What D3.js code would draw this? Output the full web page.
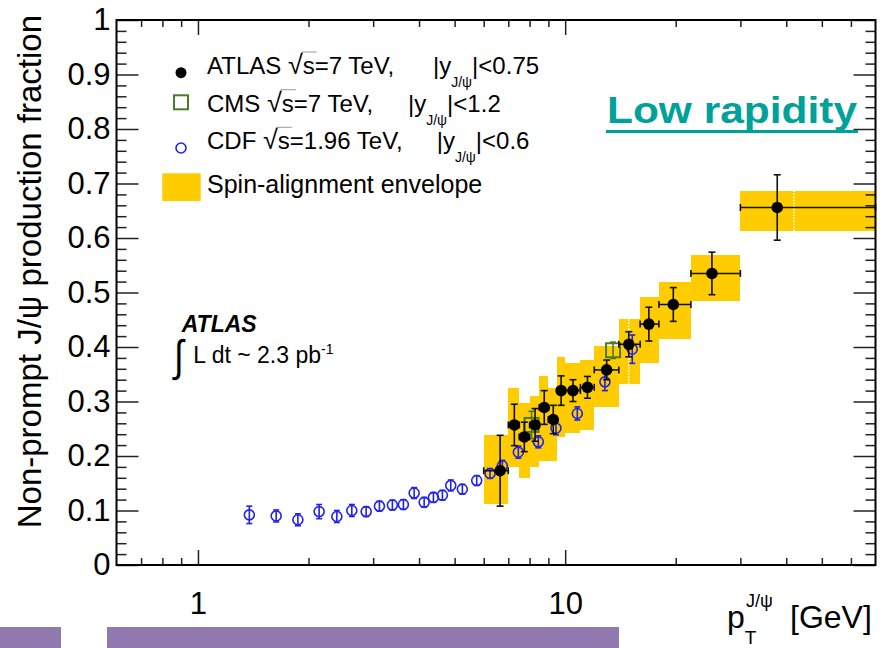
<!DOCTYPE html>
<html>
<head>
<meta charset="utf-8">
<script src="https://d3js.org/d3.v7.min.js"></script>
<style>
  body { margin: 0; background: #fff; }
  svg text { font-family: "Liberation Sans", Arial, Helvetica, sans-serif; fill: #000; white-space: pre; }
</style>
</head>
<body>
<svg id="chart" width="895" height="648"></svg>
<script>
// ATLAS, |y| < 0.75 : mean pT, bin edges, fraction, error, spin envelope
const atlasPt   = [6.65, 7.27, 7.74, 8.28, 8.77, 9.28, 9.75, 10.5, 11.5, 12.97, 14.9, 16.9, 19.7, 25.1, 37.8]
const atlasLo   = [6, 7, 7.5, 8, 8.5, 9, 9.5, 10, 11, 12, 14, 16, 18, 22, 30]
const atlasHi   = [7, 7.5, 8, 8.5, 9, 9.5, 10, 11, 12, 14, 16, 18, 22, 30, 70]
const atlasFrac = [0.173, 0.257, 0.235, 0.257, 0.289, 0.267, 0.320, 0.320, 0.326, 0.358, 0.405, 0.442, 0.478, 0.535, 0.656]
const atlasErr  = [0.065, 0.038, 0.027, 0.030, 0.031, 0.026, 0.027, 0.020, 0.020, 0.018, 0.023, 0.031, 0.031, 0.039, 0.060]
const envLo     = [0.112, 0.180, 0.159, 0.180, 0.190, 0.190, 0.235, 0.242, 0.248, 0.289, 0.333, 0.370, 0.415, 0.485, 0.612]
const envHi     = [0.238, 0.324, 0.297, 0.310, 0.347, 0.324, 0.382, 0.370, 0.377, 0.402, 0.451, 0.491, 0.519, 0.569, 0.687]
// seams visible inside two envelope boxes (pT)
const envSeams  = [14.9, 42]

// CMS, |y| < 1.2
const cmsPt   = [8.1, 13.5]
const cmsFrac = [0.257, 0.394]
const cmsErr  = [0.025, 0.015]

// CDF, |y| < 0.6
const cdfPt   = [1.38, 1.633, 1.871, 2.138, 2.389, 2.624, 2.871, 3.12, 3.384, 3.626, 3.879, 4.13, 4.377, 4.631, 4.88, 5.248, 5.743, 6.243, 6.745, 7.455, 8.45, 9.44, 10.79, 12.83, 15.23]
const cdfFrac = [0.092, 0.090, 0.083, 0.098, 0.089, 0.100, 0.098, 0.108, 0.110, 0.111, 0.132, 0.115, 0.124, 0.128, 0.146, 0.139, 0.155, 0.168, 0.182, 0.207, 0.226, 0.251, 0.278, 0.336, 0.396]
const cdfErr  = [0.016, 0.011, 0.011, 0.013, 0.011, 0.011, 0.009, 0.009, 0.009, 0.009, 0.010, 0.009, 0.009, 0.009, 0.010, 0.009, 0.009, 0.009, 0.010, 0.011, 0.011, 0.012, 0.012, 0.016, 0.026]

const yMajor = d3.range(0, 11).map(i => i / 10)
const yMinor = d3.range(0, 51).filter(i => i % 5 !== 0).map(i => i / 50)
const xMajor = [1, 10]
const xMinor = [0.7, 0.8, 0.9, 2, 3, 4, 5, 6, 7, 8, 9, 20, 30, 40, 50, 60]

const svg = d3.select('#chart')
const pLeft = 116.5, pRight = 875.5, pTop = 20, pBottom = 565

const x = d3.scaleLog().domain([0.6, 70]).range([pLeft, pRight])
const y = d3.scaleLinear().domain([0, 1]).range([pBottom, pTop])

const yellow = '#ffcc00', blue = '#2020f0', green = '#4d7a26'

// slide decoration
svg.append('rect').attr('x', 0).attr('y', 627).attr('width', 61).attr('height', 21).attr('fill', '#9179b0')
svg.append('rect').attr('x', 107).attr('y', 627).attr('width', 512).attr('height', 21).attr('fill', '#9179b0')

// spin-alignment envelope
svg.append('g').attr('shape-rendering', 'crispEdges').selectAll('rect').data(atlasPt).join('rect')
  .attr('x', (d, i) => x(atlasLo[i]))
  .attr('width', (d, i) => x(atlasHi[i]) - x(atlasLo[i]))
  .attr('y', (d, i) => y(envHi[i]))
  .attr('height', (d, i) => y(envLo[i]) - y(envHi[i]))
  .attr('fill', yellow)
envSeams.forEach(p => {
  const i = atlasLo.findIndex((lo, k) => p >= lo && p < atlasHi[k])
  svg.append('line').attr('x1', x(p)).attr('x2', x(p)).attr('y1', y(envHi[i])).attr('y2', y(envLo[i]))
    .attr('stroke', '#fff').attr('stroke-width', 1.5).attr('stroke-dasharray', '1.5,1.5')
})

// axes (ticks point inwards, ROOT style)
function axisG(axis, transform, vals, size, labels) {
  const g = svg.append('g').attr('transform', transform)
  g.call(axis.tickValues(vals).tickSizeInner(-size).tickSizeOuter(0).tickFormat(labels || ''))
  g.select('.domain').remove()
  g.selectAll('line').attr('stroke', '#222').attr('stroke-width', 1.5)
  g.attr('font-size', 31).attr('font-family', null)
  return g
}
const yFmt = d => d === 0 ? '0' : d === 1 ? '1' : d.toFixed(1)
axisG(d3.axisLeft(y).tickPadding(6), `translate(${pLeft},0)`, yMajor, 22, yFmt)
axisG(d3.axisLeft(y), `translate(${pLeft},0)`, yMinor, 10)
axisG(d3.axisRight(y), `translate(${pRight},0)`, yMajor, 22)
axisG(d3.axisRight(y), `translate(${pRight},0)`, yMinor, 10)
axisG(d3.axisBottom(x).tickPadding(27), `translate(0,${pBottom})`, xMajor, 15, d => String(d))
axisG(d3.axisBottom(x), `translate(0,${pBottom})`, xMinor, 7)
axisG(d3.axisTop(x), `translate(0,${pTop})`, xMajor, 15)
axisG(d3.axisTop(x), `translate(0,${pTop})`, xMinor, 7)

// error bars helper
function vbar(g, px, y1, y2, color, cap) {
  g.append('line').attr('x1', px).attr('x2', px).attr('y1', y1).attr('y2', y2).attr('stroke', color).attr('stroke-width', 1.6)
  ;[y1, y2].forEach(v => g.append('line').attr('x1', px - cap).attr('x2', px + cap).attr('y1', v).attr('y2', v).attr('stroke', color).attr('stroke-width', 1.6))
}
function hbar(g, py, x1, x2, color, cap) {
  g.append('line').attr('x1', x1).attr('x2', x2).attr('y1', py).attr('y2', py).attr('stroke', color).attr('stroke-width', 1.6)
  ;[x1, x2].forEach(v => g.append('line').attr('x1', v).attr('x2', v).attr('y1', py - cap).attr('y2', py + cap).attr('stroke', color).attr('stroke-width', 1.6))
}

// CDF
const gCdf = svg.append('g')
cdfPt.forEach((p, i) => vbar(gCdf, x(p), y(cdfFrac[i] + cdfErr[i]), y(cdfFrac[i] - cdfErr[i]), blue, 3))
gCdf.selectAll('circle').data(cdfPt).join('circle')
  .attr('cx', d => x(d)).attr('cy', (d, i) => y(cdfFrac[i])).attr('r', 5)
  .attr('fill', 'none').attr('stroke', blue).attr('stroke-width', 1.6)

// CMS
const gCms = svg.append('g')
cmsPt.forEach((p, i) => vbar(gCms, x(p), y(cmsFrac[i] + cmsErr[i]), y(cmsFrac[i] - cmsErr[i]), green, 3))
gCms.selectAll('rect').data(cmsPt).join('rect')
  .attr('x', d => x(d) - 7).attr('y', (d, i) => y(cmsFrac[i]) - 7).attr('width', 14).attr('height', 14)
  .attr('fill', 'none').attr('stroke', green).attr('stroke-width', 2)

// ATLAS
const gAtlas = svg.append('g')
atlasPt.forEach((p, i) => {
  vbar(gAtlas, x(p), y(atlasFrac[i] + atlasErr[i]), y(atlasFrac[i] - atlasErr[i]), '#111', 3.5)
  hbar(gAtlas, y(atlasFrac[i]), x(atlasLo[i]), x(atlasHi[i]), '#111', 3.5)
})
gAtlas.selectAll('circle').data(atlasPt).join('circle')
  .attr('cx', d => x(d)).attr('cy', (d, i) => y(atlasFrac[i])).attr('r', 5.8).attr('fill', '#000')

// frame
svg.append('rect').attr('x', pLeft).attr('y', pTop).attr('width', pRight - pLeft).attr('height', pBottom - pTop)
  .attr('fill', 'none').attr('stroke', '#000').attr('stroke-width', 2)

// rich text helper: parts placed one after the other
function rich(x0, y0, parts, base) {
  let cx = x0
  parts.forEach(p => {
    if (p.x != null) cx = p.x
    const size = p.size || base || 24
    const t = svg.append('text').attr('x', cx).attr('y', y0 + (p.dy || 0))
      .attr('font-size', size).text(p.t)
    if (p.weight) t.attr('font-weight', p.weight)
    if (p.style) t.attr('font-style', p.style)
    const w = t.node().getComputedTextLength()
    if (p.over) svg.append('line').attr('x1', cx - 1).attr('x2', cx + w + 2)
      .attr('y1', y0 - 22).attr('y2', y0 - 22).attr('stroke', '#999').attr('stroke-width', 1)
    cx += w
  })
}

// legend
const lg = svg.append('g')
lg.append('circle').attr('cx', 181).attr('cy', 72.7).attr('r', 5.5).attr('fill', '#000')
lg.append('rect').attr('x', 174).attr('y', 95.3).attr('width', 14).attr('height', 14)
  .attr('fill', 'none').attr('stroke', green).attr('stroke-width', 2)
lg.append('circle').attr('cx', 181).attr('cy', 148).attr('r', 5).attr('fill', 'none').attr('stroke', blue).attr('stroke-width', 1.6)
lg.append('rect').attr('x', 162.3).attr('y', 173.3).attr('width', 38.4).attr('height', 27.7).attr('fill', yellow)

rich(207, 74, [{ t: 'ATLAS ' }, { t: '\u221A', size: 27 }, { t: 's', over: true }, { t: '=7 TeV,' },
  { t: '|y', x: 433 }, { t: 'J/\u03C8', size: 14, dy: 13 }, { t: '|<0.75' }])
rich(207, 111.7, [{ t: 'CMS ' }, { t: '\u221A', size: 27 }, { t: 's', over: true }, { t: '=7 TeV,' },
  { t: '|y', x: 408 }, { t: 'J/\u03C8', size: 14, dy: 13 }, { t: '|<1.2' }])
rich(207, 149.3, [{ t: 'CDF ' }, { t: '\u221A', size: 27 }, { t: 's', over: true }, { t: '=1.96 TeV,' },
  { t: '|y', x: 436.7 }, { t: 'J/\u03C8', size: 14, dy: 13 }, { t: '|<0.6' }])
rich(207, 193, [{ t: 'Spin-alignment envelope' }], 25)

// ATLAS label + luminosity
rich(181.7, 331.7, [{ t: 'ATLAS', weight: 'bold', style: 'italic' }], 23)
svg.append('text').attr('x', 174).attr('y', 371).attr('font-size', 44)
  .attr('font-family', '"DejaVu Sans", sans-serif').attr('transform', 'translate(174,371) scale(0.8,1) translate(-174,-371)')
  .text('\u222B')
rich(193.3, 363.3, [{ t: 'L dt ~ 2.3 pb' }, { t: '-1', size: 14, dy: -9 }], 23)

// Low rapidity
svg.append('text').attr('x', 607).attr('y', 123).attr('font-size', 37).attr('font-weight', 'bold')
  .attr('textLength', 250).attr('lengthAdjust', 'spacingAndGlyphs')
  .style('fill', '#00a19a').text('Low rapidity')
svg.append('line').attr('x1', 606).attr('x2', 858).attr('y1', 131.5).attr('y2', 131.5)
  .attr('stroke', '#00a19a').attr('stroke-width', 3)

// axis titles
svg.append('text').attr('transform', 'translate(41,15) rotate(-90)').attr('text-anchor', 'end')
  .attr('font-size', 33).text('Non-prompt J/\u03C8 production fraction')
rich(727, 628, [{ t: 'p', size: 32 }, { t: 'T', size: 19, dy: 16, }, { t: 'J/\u03C8', size: 18, dy: -21, x: 746 },
  { t: '[GeV]', size: 32, x: 790 }])
</script>
</body>
</html>
